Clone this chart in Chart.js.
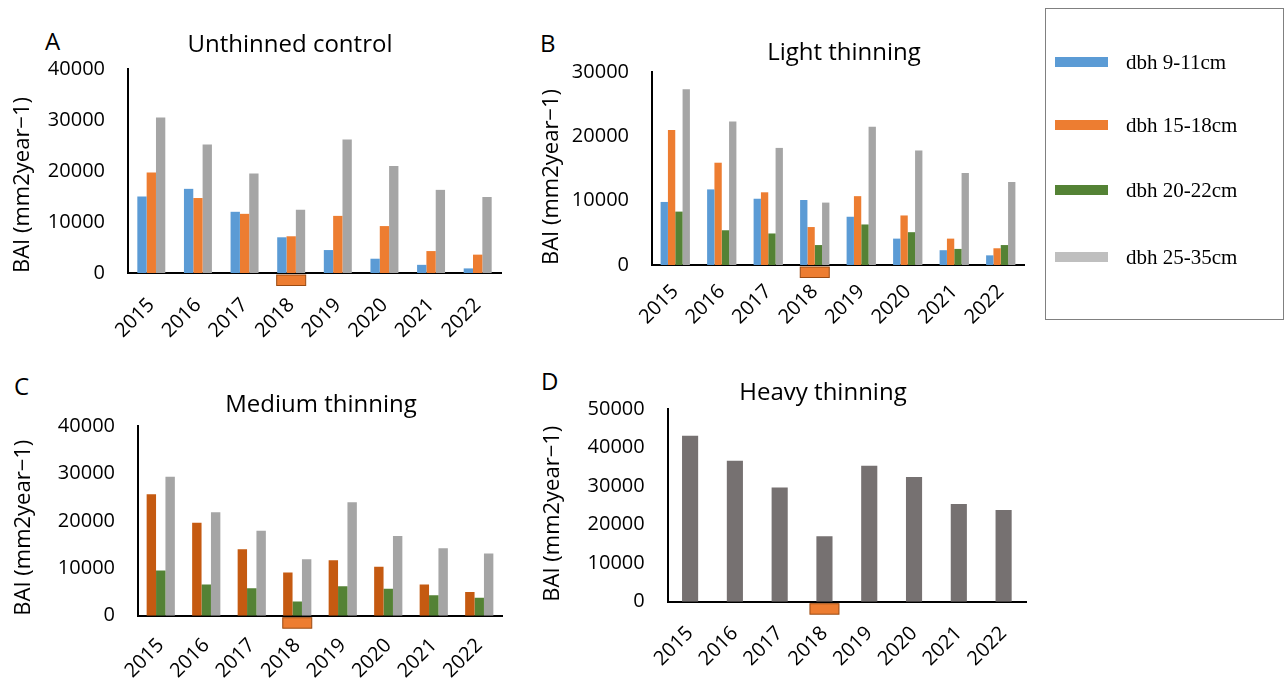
<!DOCTYPE html>
<html>
<head>
<meta charset="utf-8">
<script src="https://cdn.jsdelivr.net/npm/chart.js@4.4.0/dist/chart.umd.min.js"></script>
<style>
  body { margin: 0; background: #fff; width: 1284px; height: 684px; overflow: hidden; position: relative; font-family: 'Open Sans', sans-serif; }
  canvas { position: absolute; }
  .letter { position: absolute; font-size: 24px; line-height: 1; color: #000; }
  #legend { position: absolute; left: 1045px; top: 8px; width: 237px; height: 310px; border: 1px solid #808080; font-family: 'Liberation Serif', serif; font-size: 21px; color: #000; }
  .item { position: absolute; left: 9px; height: 24px; display: flex; align-items: center; white-space: nowrap; }
  .swatch { width: 53px; height: 10px; margin-right: 18px; }
</style>
</head>
<body>
<div class="letter" style="left:45px;top:29px">A</div>
<div class="letter" style="left:540px;top:31px">B</div>
<div class="letter" style="left:14px;top:374px">C</div>
<div class="letter" style="left:541px;top:369px">D</div>
<canvas id="chartA" width="580" height="345" style="left:0;top:0"></canvas>
<canvas id="chartB" width="628" height="345" style="left:530px;top:0"></canvas>
<canvas id="chartC" width="642" height="324" style="left:0;top:360px"></canvas>
<canvas id="chartD" width="586" height="324" style="left:530px;top:360px"></canvas>
<div id="legend"></div>
<script>
// years on the x axis
const years = ['2015', '2016', '2017', '2018', '2019', '2020', '2021', '2022'];
const markYear = '2018';

// A - Unthinned control
const ctrl9to11 = [15000, 16500, 12000, 7000, 4500, 2800, 1600, 900];
const ctrl15to18 = [19700, 14700, 11600, 7200, 11200, 9200, 4300, 3600];
const ctrl25to35 = [30500, 25200, 19500, 12400, 26200, 21000, 16300, 14900];

// B - Light thinning
const light9to11 = [9800, 11750, 10300, 10100, 7500, 4100, 2300, 1500];
const light15to18 = [21000, 15900, 11300, 5900, 10700, 7700, 4100, 2600];
const light20to22 = [8300, 5400, 4900, 3100, 6300, 5100, 2500, 3100];
const light25to35 = [27300, 22300, 18200, 9700, 21500, 17800, 14300, 12900];

// C - Medium thinning
const med15to18 = [25600, 19600, 14000, 9100, 11700, 10300, 6600, 5000];
const med20to22 = [9550, 6600, 5800, 3000, 6200, 5700, 4300, 3800];
const med25to35 = [29300, 21800, 17900, 11900, 23900, 16800, 14200, 13100];

// D - Heavy thinning
const heavyAll = [43100, 36600, 29700, 17000, 35300, 32400, 25400, 23800];

const legendLabels = ['dbh 9-11cm', 'dbh 15-18cm', 'dbh 20-22cm', 'dbh 25-35cm'];
const legendColours = ['#5B9BD5', '#ED7D31', '#548235', '#BFBFBF'];

const yTitle = 'BAI (mm2year\u22121)';

Chart.defaults.font.family = "'Open Sans', sans-serif";
Chart.defaults.color = '#000';

// small orange box under the 2018 tick
const yearMarker = {
    id: 'yearMarker',
    afterDraw(chart) {
        const x = chart.scales.x.getPixelForValue(years.indexOf(markYear));
        const y = chart.chartArea.bottom;
        const ctx = chart.ctx;
        ctx.save();
        ctx.fillStyle = '#ED7D31';
        ctx.strokeStyle = '#9A4A12';
        ctx.lineWidth = 1;
        ctx.fillRect(x - 14.5, y + 2, 29, 10.5);
        ctx.strokeRect(x - 14.5, y + 2, 29, 10.5);
        ctx.restore();
    }
};

function makePanel(canvasId, p) {
    const ctx = document.getElementById(canvasId).getContext('2d');
    return new Chart(ctx, {
        type: 'bar',
        data: {
            labels: years,
            datasets: p.datasets.map(d => ({
                label: d.label,
                data: d.data,
                backgroundColor: d.colour,
                borderWidth: 0,
                barPercentage: 1,
                categoryPercentage: p.catPct,
            })),
        },
        options: {
            responsive: false,
            animation: false,
            layout: { padding: 0 },
            plugins: {
                legend: { display: false },
                tooltip: { enabled: false },
                title: {
                    display: true,
                    text: p.title,
                    font: { size: 24, weight: 'normal' },
                    color: '#000',
                    padding: { top: p.titleTop, bottom: p.titleBottom },
                },
            },
            scales: {
                x: {
                    grid: { display: false, drawTicks: false },
                    border: { display: true, color: '#000', width: 2 },
                    ticks: { font: { size: 20 }, color: '#000', maxRotation: 45, minRotation: 45, autoSkip: false, padding: p.xPad },
                    afterFit(scale) { scale.height = p.xHeight; },
                },
                y: {
                    min: 0,
                    max: p.yMax,
                    grid: { display: false, drawTicks: false },
                    border: { display: true, color: '#000', width: 2 },
                    ticks: { stepSize: 10000, font: { size: 20 }, color: '#000', padding: 23, callback: v => String(v) },
                    title: {
                        display: true,
                        text: yTitle,
                        align: 'start',
                        font: { size: 22 },
                        color: '#000',
                        padding: { top: p.yTitlePad, bottom: 0 },
                    },
                    afterFit(scale) { scale.width = p.yWidth; },
                },
                // empty right-hand scale, only reserves room so the title sits where it should
                spacer: {
                    position: 'right',
                    grid: { display: false, drawTicks: false },
                    border: { display: false },
                    ticks: { display: false },
                    afterFit(scale) { scale.width = p.padRight; },
                },
            },
        },
        plugins: [yearMarker],
    });
}

makePanel('chartA', {
    title: 'Unthinned control', yMax: 40000, catPct: 0.6,
    yWidth: 128, padRight: 79, xHeight: 72, xPad: 20.5, titleTop: 30.6, titleBottom: 9.6, yTitlePad: 10,
    datasets: [
        { label: legendLabels[0], data: ctrl9to11, colour: '#5B9BD5' },
        { label: legendLabels[1], data: ctrl15to18, colour: '#ED7D31' },
        { label: legendLabels[3], data: ctrl25to35, colour: '#A5A5A5' },
    ],
});

makePanel('chartB', {
    title: 'Light thinning', yMax: 30000, catPct: 0.63,
    yWidth: 122, padRight: 134, xHeight: 80, xPad: 15, titleTop: 38.6, titleBottom: 4.6, yTitlePad: 9,
    datasets: [
        { label: legendLabels[0], data: light9to11, colour: '#5B9BD5' },
        { label: legendLabels[1], data: light15to18, colour: '#ED7D31' },
        { label: legendLabels[2], data: light20to22, colour: '#548235' },
        { label: legendLabels[3], data: light25to35, colour: '#A5A5A5' },
    ],
});

makePanel('chartC', {
    title: 'Medium thinning', yMax: 40000, catPct: 0.62,
    yWidth: 138, padRight: 140, xHeight: 68.3, xPad: 18, titleTop: 30.6, titleBottom: 6.6, yTitlePad: 11,
    datasets: [
        { label: legendLabels[1], data: med15to18, colour: '#C55A11' },
        { label: legendLabels[2], data: med20to22, colour: '#548235' },
        { label: legendLabels[3], data: med25to35, colour: '#A5A5A5' },
    ],
});

makePanel('chartD', {
    title: 'Heavy thinning', yMax: 50000, catPct: 0.36,
    yWidth: 137.7, padRight: 90, xHeight: 82.3, xPad: 20, titleTop: 18.6, titleBottom: 1.9, yTitlePad: 10,
    datasets: [
        { label: 'all', data: heavyAll, colour: '#767171' },
    ],
});

// legend box on the right
const legendBox = document.getElementById('legend');
const rowCentres = [53, 116, 181, 248];
legendLabels.forEach((name, i) => {
    const item = document.createElement('div');
    item.className = 'item';
    item.style.top = (rowCentres[i] - 12) + 'px';
    const sw = document.createElement('span');
    sw.className = 'swatch';
    sw.style.background = legendColours[i];
    const txt = document.createElement('span');
    txt.textContent = name;
    item.appendChild(sw);
    item.appendChild(txt);
    legendBox.appendChild(item);
});
</script>
</body>
</html>
